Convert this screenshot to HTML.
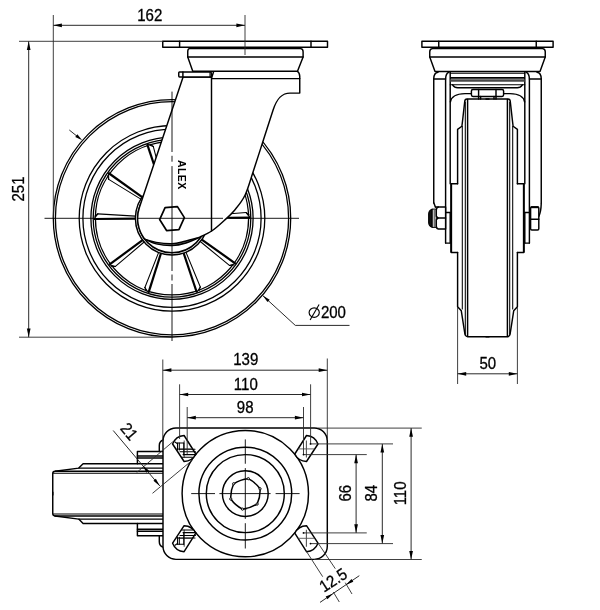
<!DOCTYPE html>
<html><head><meta charset="utf-8"><title>Caster drawing</title>
<style>
html,body{margin:0;padding:0;background:#fff;}
body{width:600px;height:610px;overflow:hidden;}
svg{display:block;}
.m{stroke:#000;stroke-width:1.45;fill:none;stroke-linecap:round;stroke-linejoin:round;}
.mf{stroke:#000;stroke-width:1.45;fill:#fff;stroke-linecap:round;stroke-linejoin:round;}
.k{stroke:#000;stroke-width:2.2;fill:none;stroke-linecap:butt;}
.t{stroke:#000;stroke-width:1.05;fill:none;stroke-linecap:round;}
.d{stroke:#2a2a2a;stroke-width:1.0;fill:none;}
.e{stroke:#2a2a2a;stroke-width:0.9;fill:none;}
.c{stroke:#000;stroke-width:0.9;fill:none;}
.ar{fill:#000;stroke:none;}
text{font-family:"Liberation Sans",sans-serif;font-size:15px;fill:#000;stroke:#000;stroke-width:0.3px;}
svg{will-change:transform;}
</style></head><body>
<svg width="600" height="610" viewBox="0 0 600 610">
<rect x="0" y="0" width="600" height="610" fill="#fff"/>

<g id="side">
<circle class="m" style="stroke-width:1.3" cx="172.00" cy="218.30" r="118.70"/>
<circle class="m" style="stroke-width:1.3" cx="172.00" cy="218.30" r="116.60"/>
<circle class="m" style="stroke-width:1.3" cx="172.00" cy="218.30" r="92.80"/>
<circle class="m" style="stroke-width:1.3" cx="172.00" cy="218.30" r="89.10"/>
<circle class="m" style="stroke-width:1.3" cx="172.00" cy="218.30" r="81.10"/>
<circle class="m" style="stroke-width:1.3" cx="172.00" cy="218.30" r="78.80"/>
<circle class="m" style="stroke-width:1.3" cx="172.00" cy="218.30" r="76.60"/>
<polygon points="208.60,217.98 250.00,217.62 246.08,212.60 208.49,215.49" fill="#fff" stroke="none"/>
<line class="k" x1="208.60" y1="217.98" x2="250.00" y2="217.62"/>
<line class="t" x1="208.49" y1="215.49" x2="246.08" y2="212.60"/>
<line class="t" x1="246.08" y1="212.60" x2="250.00" y2="217.62"/>
<line class="t" x1="246.08" y1="212.60" x2="249.13" y2="214.93"/>
<polygon points="201.80,239.55 235.50,263.59 229.41,265.46 200.28,241.53" fill="#fff" stroke="none"/>
<line class="k" x1="201.80" y1="239.55" x2="235.50" y2="263.59"/>
<line class="t" x1="200.28" y1="241.53" x2="229.41" y2="265.46"/>
<line class="t" x1="229.41" y1="265.46" x2="235.50" y2="263.59"/>
<line class="t" x1="229.41" y1="265.46" x2="233.25" y2="265.30"/>
<polygon points="183.61,253.01 196.75,292.27 200.31,286.99 185.95,252.14" fill="#fff" stroke="none"/>
<line class="k" x1="183.61" y1="253.01" x2="196.75" y2="292.27"/>
<line class="t" x1="185.95" y1="252.14" x2="200.31" y2="286.99"/>
<line class="t" x1="200.31" y1="286.99" x2="196.75" y2="292.27"/>
<line class="t" x1="200.31" y1="286.99" x2="199.04" y2="290.61"/>
<polygon points="160.99,253.21 148.54,292.69 144.89,287.48 158.65,252.38" fill="#fff" stroke="none"/>
<line class="k" x1="160.99" y1="253.21" x2="148.54" y2="292.69"/>
<line class="t" x1="158.65" y1="252.38" x2="144.89" y2="287.48"/>
<line class="t" x1="144.89" y1="287.48" x2="148.54" y2="292.69"/>
<line class="t" x1="144.89" y1="287.48" x2="146.23" y2="291.07"/>
<polygon points="142.58,240.07 109.30,264.70 115.42,266.46 144.13,242.02" fill="#fff" stroke="none"/>
<line class="k" x1="142.58" y1="240.07" x2="109.30" y2="264.70"/>
<line class="t" x1="144.13" y1="242.02" x2="115.42" y2="266.46"/>
<line class="t" x1="115.42" y1="266.46" x2="109.30" y2="264.70"/>
<line class="t" x1="115.42" y1="266.46" x2="111.58" y2="266.36"/>
<polygon points="135.40,218.62 94.00,218.98 97.83,213.89 135.46,216.13" fill="#fff" stroke="none"/>
<line class="k" x1="135.40" y1="218.62" x2="94.00" y2="218.98"/>
<line class="t" x1="135.46" y1="216.13" x2="97.83" y2="213.89"/>
<line class="t" x1="97.83" y1="213.89" x2="94.00" y2="218.98"/>
<line class="t" x1="97.83" y1="213.89" x2="94.83" y2="216.28"/>
<polygon points="142.20,197.05 108.50,173.01 108.72,179.37 140.83,199.12" fill="#fff" stroke="none"/>
<line class="k" x1="142.20" y1="197.05" x2="108.50" y2="173.01"/>
<line class="t" x1="140.83" y1="199.12" x2="108.72" y2="179.37"/>
<line class="t" x1="108.72" y1="179.37" x2="108.50" y2="173.01"/>
<line class="t" x1="108.72" y1="179.37" x2="107.62" y2="175.69"/>
<polygon points="160.39,183.59 147.25,144.33 153.27,146.40 162.77,182.88" fill="#fff" stroke="none"/>
<line class="k" x1="160.39" y1="183.59" x2="147.25" y2="144.33"/>
<line class="t" x1="162.77" y1="182.88" x2="153.27" y2="146.40"/>
<line class="t" x1="153.27" y1="146.40" x2="147.25" y2="144.33"/>
<line class="t" x1="153.27" y1="146.40" x2="150.07" y2="144.28"/>
<polygon points="183.01,183.39 195.46,143.91 189.47,146.08 180.61,182.73" fill="#fff" stroke="none"/>
<line class="k" x1="183.01" y1="183.39" x2="195.46" y2="143.91"/>
<line class="t" x1="180.61" y1="182.73" x2="189.47" y2="146.08"/>
<line class="t" x1="189.47" y1="146.08" x2="195.46" y2="143.91"/>
<line class="t" x1="189.47" y1="146.08" x2="192.63" y2="143.91"/>
<polygon points="201.42,196.53 234.70,171.90 234.59,178.27 202.83,198.58" fill="#fff" stroke="none"/>
<line class="k" x1="201.42" y1="196.53" x2="234.70" y2="171.90"/>
<line class="t" x1="202.83" y1="198.58" x2="234.59" y2="178.27"/>
<line class="t" x1="234.59" y1="178.27" x2="234.70" y2="171.90"/>
<line class="t" x1="234.59" y1="178.27" x2="235.62" y2="174.57"/>
<circle class="m" cx="172.00" cy="218.30" r="36.60"/>
<circle class="m" cx="172.00" cy="218.30" r="34.40"/>
<path class="mf" d="M 183.1,76.9 L 139.4,207.4 A 34.4 34.4 0 0 0 144.7,239.2 C 146.62,239.98 151.70,242.83 156.25,243.90 C 160.80,244.97 167.04,245.75 172.00,245.60 C 176.96,245.45 181.54,244.33 186.00,243.00 C 190.46,241.67 194.42,239.64 198.75,237.60 C 203.08,235.56 207.79,233.57 212.00,230.75 C 216.21,227.93 220.17,224.21 224.00,220.70 C 227.83,217.19 231.48,213.98 235.00,209.70 C 238.52,205.42 242.05,201.42 245.10,195.00 C 248.15,188.58 250.25,180.37 253.30,171.20 C 256.35,162.03 260.10,150.20 263.40,140.00 C 266.70,129.80 271.48,115.00 273.10,110.00 C 276.5,99.5 281,93.1 290,93.1 L 299.75,93.1 L 299.75,76.4 Q 299.6,72.6 297.5,71.3 L 213.75,71.3 L 211.9,76.9 Z"/>
<path class="m" d="M 144.70,239.20 C 146.62,239.73 151.70,241.65 156.25,242.40 C 160.80,243.15 167.21,243.88 172.00,243.70 C 176.79,243.52 180.54,242.32 185.00,241.30 C 189.46,240.28 196.46,238.22 198.75,237.60 "/>
<path d="M 144.70,239.20 C 146.62,239.73 151.70,241.65 156.25,242.40 C 160.80,243.15 167.21,243.88 172.00,243.70 C 176.79,243.52 180.54,242.32 185.00,241.30 C 189.46,240.28 196.46,238.22 198.75,237.60  C 196.62,238.50 190.46,241.67 186.00,243.00 C 181.54,244.33 176.96,245.45 172.00,245.60 C 167.04,245.75 160.80,244.97 156.25,243.90 C 151.70,242.83 146.62,239.98 144.70,239.20  Z" fill="#000" stroke="none" opacity="0.5"/>
<line class="m" x1="211.50" y1="76.90" x2="211.50" y2="231.00"/>
<line class="m" x1="211.90" y1="78.60" x2="299.75" y2="78.60"/>
<rect class="mf" x="178.75" y="71.9" width="32.5" height="5" rx="0.8"/>
<line class="m" x1="182.90" y1="71.90" x2="182.90" y2="76.90"/>
<line class="t" x1="210.00" y1="71.90" x2="210.00" y2="76.90"/>
<path class="mf" d="M 189.4,48.6 L 300.6,48.6 Q 303.1,48.8 303.1,51.8 L 303.1,56.9 L 297.5,71.3 L 192.75,71.3 L 187.75,56.9 L 187.75,51.8 Q 187.75,48.8 189.4,48.6 Z"/>
<line class="m" x1="187.75" y1="56.90" x2="303.10" y2="56.90"/>
<rect class="mf" x="162.75" y="41.25" width="164.75" height="6" />
<line class="m" x1="179.60" y1="41.25" x2="179.60" y2="47.25"/>
<line class="m" x1="311.00" y1="41.25" x2="311.00" y2="47.25"/>
<polygon class="mf" style="stroke-width:1.7" points="184.37,217.67 178.93,229.60 166.56,230.53 159.63,219.53 165.07,207.60 177.44,206.67"/>
<text transform="translate(178.3,160) rotate(90)" style="font-size:10.5px;font-weight:bold;letter-spacing:0.4px;stroke:none">ALEX</text>
<line class="c" x1="172.00" y1="91.60" x2="172.00" y2="152.00"/>
<line class="c" x1="172.00" y1="155.80" x2="172.00" y2="161.70"/>
<line class="c" x1="172.00" y1="166.10" x2="172.00" y2="271.00"/>
<line class="c" x1="172.00" y1="274.50" x2="172.00" y2="280.50"/>
<line class="c" x1="172.00" y1="284.00" x2="172.00" y2="341.00"/>
<line class="c" x1="44.50" y1="218.30" x2="96.00" y2="218.30"/>
<line class="c" x1="137.50" y1="218.30" x2="223.00" y2="218.30"/>
<line class="c" x1="229.50" y1="218.30" x2="299.00" y2="218.30"/>
</g>
<g id="sidedims">
<line class="e" x1="53.30" y1="15.00" x2="53.30" y2="218.00"/>
<line class="e" x1="245.00" y1="15.00" x2="245.00" y2="55.00"/>
<line class="d" x1="53.30" y1="25.30" x2="245.00" y2="25.30"/>
<polygon class="ar" points="53.30,25.30 61.90,23.45 61.90,27.15"/>
<polygon class="ar" points="245.00,25.30 236.40,27.15 236.40,23.45"/>
<text transform="translate(149.80,20.60) rotate(0.00) scale(0.905,1)" text-anchor="middle" style="font-size:16.60px;">162</text>
<line class="e" x1="19.00" y1="41.30" x2="163.00" y2="41.30"/>
<line class="e" x1="19.00" y1="337.20" x2="172.00" y2="337.20"/>
<line class="d" x1="28.70" y1="41.30" x2="28.70" y2="337.20"/>
<polygon class="ar" points="28.70,41.30 30.55,49.90 26.85,49.90"/>
<polygon class="ar" points="28.70,337.20 26.85,328.60 30.55,328.60"/>
<text transform="translate(24.20,189.00) rotate(-90.00) scale(0.905,1)" text-anchor="middle" style="font-size:16.60px;">251</text>
<line class="d" x1="69.30" y1="130.00" x2="78.00" y2="137.00"/>
<polygon class="ar" points="82.20,140.20 75.26,136.90 77.36,134.22"/>
<line class="d" x1="262.70" y1="295.50" x2="295.30" y2="325.40"/>
<line class="d" x1="295.30" y1="325.40" x2="349.50" y2="325.40"/>
<polygon class="ar" points="262.70,295.50 269.68,299.73 267.51,302.09"/>
<text transform="translate(320.90,318.00) rotate(0.00) scale(0.905,1)" text-anchor="start" style="font-size:16.60px;">200</text>
<ellipse cx="314.2" cy="312.6" rx="5.1" ry="4.7" fill="none" stroke="#000" stroke-width="1.15"/>
<line x1="310.1" y1="320" x2="319.1" y2="304.4" stroke="#000" stroke-width="1.1"/>
</g>
<g id="front">
<rect class="mf" x="421.9" y="41.25" width="131.2" height="6"/>
<line class="m" x1="438.75" y1="41.25" x2="438.75" y2="47.25"/><g transform="translate(975.00,0) scale(-1,1)"><line class="m" x1="438.75" y1="41.25" x2="438.75" y2="47.25"/></g>
<path class="mf" d="M 432.5,48.6 L 542.5,48.6 Q 545.25,48.8 545.25,51.8 L 545.25,56.9 L 540,71.5 L 435,71.5 L 429.75,56.9 L 429.75,51.8 Q 429.75,48.8 432.5,48.6 Z"/>
<line class="m" x1="429.75" y1="56.90" x2="545.25" y2="56.90"/>
<path class="m" d="M 433.75,203 L 433.75,78.75 Q 433.9,72.6 438,72.2"/><line class="m" x1="433.75" y1="79.00" x2="445.60" y2="79.00"/><path class="m" d="M 445.6,243.1 L 445.6,79 Q 445.8,73.2 448.75,72.2"/><line class="m" x1="450.20" y1="72.20" x2="450.20" y2="183.75"/><line class="m" x1="445.60" y1="243.10" x2="450.20" y2="243.10"/><line class="m" x1="450.20" y1="212.50" x2="450.20" y2="243.10"/><line class="m" x1="445.60" y1="212.50" x2="450.20" y2="212.50"/><path class="m" d="M 457.6,183.75 L 451.25,183.75 L 451.25,252.5 L 457.6,252.5"/><line x1="451.2" y1="183.75" x2="451.2" y2="252.5" stroke="#000" stroke-width="1.9"/><path class="m" d="M 450.4,101.9 Q 451.5,94 465,93.6 L 471.6,93.6"/><path class="m" d="M 489,99 L 467,99 Q 464.9,99 464.75,101.25 L 462.5,121.25 L 461.9,126.25 L 457.6,129.4 L 457.6,183.75"/><path class="m" d="M 457.6,252.5 L 457.6,306.7 L 461.3,310.8 L 464.8,333.5 Q 465.2,336.7 468,336.7 L 489,336.7"/><line class="t" x1="462.30" y1="126.30" x2="462.30" y2="309.00"/><line class="t" x1="465.30" y1="102.00" x2="465.30" y2="334.00"/><line class="m" x1="467.60" y1="99.50" x2="467.60" y2="336.50"/><g transform="translate(975.00,0) scale(-1,1)"><path class="m" d="M 433.75,203 L 433.75,78.75 Q 433.9,72.6 438,72.2"/><line class="m" x1="433.75" y1="79.00" x2="445.60" y2="79.00"/><path class="m" d="M 445.6,243.1 L 445.6,79 Q 445.8,73.2 448.75,72.2"/><line class="m" x1="450.20" y1="72.20" x2="450.20" y2="183.75"/><line class="m" x1="445.60" y1="243.10" x2="450.20" y2="243.10"/><line class="m" x1="450.20" y1="212.50" x2="450.20" y2="243.10"/><line class="m" x1="445.60" y1="212.50" x2="450.20" y2="212.50"/><path class="m" d="M 457.6,183.75 L 451.25,183.75 L 451.25,252.5 L 457.6,252.5"/><line x1="451.2" y1="183.75" x2="451.2" y2="252.5" stroke="#000" stroke-width="1.9"/><path class="m" d="M 450.4,101.9 Q 451.5,94 465,93.6 L 471.6,93.6"/><path class="m" d="M 489,99 L 467,99 Q 464.9,99 464.75,101.25 L 462.5,121.25 L 461.9,126.25 L 457.6,129.4 L 457.6,183.75"/><path class="m" d="M 457.6,252.5 L 457.6,306.7 L 461.3,310.8 L 464.8,333.5 Q 465.2,336.7 468,336.7 L 489,336.7"/><line class="t" x1="462.30" y1="126.30" x2="462.30" y2="309.00"/><line class="t" x1="465.30" y1="102.00" x2="465.30" y2="334.00"/><line class="m" x1="467.60" y1="99.50" x2="467.60" y2="336.50"/></g>
<line class="t" x1="450.20" y1="73.20" x2="524.80" y2="73.20"/>
<line x1="450.2" y1="77.9" x2="524.8" y2="77.9" stroke="#000" stroke-width="1.9"/>
<line x1="450.2" y1="80.5" x2="524.8" y2="80.5" stroke="#484848" stroke-width="2.3"/>
<line class="t" x1="450.20" y1="84.80" x2="524.80" y2="84.80"/>
<path class="m" d="M 452.6,84.8 Q 454.5,87.7 457.7,87.7 L 517.3,87.7 Q 520.5,87.7 522.4,84.8"/>
<rect class="mf" x="471.4" y="89.4" width="32.2" height="7" rx="1.6"/>
<line class="m" x1="478.60" y1="89.40" x2="478.60" y2="96.40"/>
<line class="m" x1="496.00" y1="89.40" x2="496.00" y2="96.40"/>
<line class="m" x1="478.60" y1="96.40" x2="478.60" y2="99.00"/>
<line class="m" x1="480.60" y1="96.40" x2="480.60" y2="99.00"/>
<line class="m" x1="496.00" y1="96.40" x2="496.00" y2="99.00"/>
<line class="m" x1="494.00" y1="96.40" x2="494.00" y2="99.00"/>
<path d="M 432.2,209.3 Q 428.7,210.6 428.7,214 L 428.7,222.4 Q 428.7,225.9 432.2,227.2 Z" fill="#111" stroke="#000" stroke-width="1.2" stroke-linejoin="round"/>
<rect x="432.2" y="209.1" width="4.1" height="18.3" fill="#d8d8d8" stroke="#000" stroke-width="1"/>
<line x1="434.3" y1="209.5" x2="434.3" y2="227" stroke="#555" stroke-width="1"/>
<path class="mf" d="M 445.6,207 L 438.3,207 Q 436.4,207.6 436.3,210 L 436.3,216.2 L 438,218 L 436.3,219.8 L 436.3,226.4 Q 436.4,228.6 438.3,229 L 445.6,229 Z"/>
<line class="m" x1="438.00" y1="218.00" x2="445.60" y2="218.00"/>
<line class="m" x1="433.90" y1="203.00" x2="435.40" y2="207.00"/>
<line class="m" x1="435.40" y1="207.00" x2="438.30" y2="207.00"/>
<path class="m" d="M 541.25,203.5 Q 541,212 538.75,216.5"/>
<rect class="mf" x="530.6" y="206.9" width="8.2" height="23" rx="1.2"/>
<line class="m" x1="530.60" y1="219.20" x2="538.80" y2="219.20"/>
<line x1="530.8" y1="207.2" x2="538.6" y2="207.2" stroke="#000" stroke-width="2"/>
</g>
<g id="frontdims">
<line class="e" x1="457.60" y1="307.00" x2="457.60" y2="384.00"/>
<line class="e" x1="517.40" y1="307.00" x2="517.40" y2="384.00"/>
<line class="d" x1="457.60" y1="373.80" x2="517.40" y2="373.80"/>
<polygon class="ar" points="457.60,373.80 466.20,371.95 466.20,375.65"/>
<polygon class="ar" points="517.40,373.80 508.80,375.65 508.80,371.95"/>
<text transform="translate(487.80,368.60) rotate(0.00) scale(0.905,1)" text-anchor="middle" style="font-size:16.60px;">50</text>
</g>
<g id="top">
<path class="m" d="M 163,463.75 L 83.1,463.75 L 78.75,468.1 L 55,471.25 Q 52.75,471.4 52.75,473.6 L 52.75,495.10"/><line class="t" x1="78.75" y1="468.10" x2="163.00" y2="468.10"/><line class="m" x1="55.00" y1="471.25" x2="163.00" y2="471.25"/><line class="t" x1="53.50" y1="473.20" x2="163.00" y2="473.20"/><path class="m" d="M 163,451.5 L 137.4,451.5 L 137.4,463.75"/><line class="m" x1="137.40" y1="455.90" x2="163.00" y2="455.90"/><line class="m" x1="137.40" y1="457.90" x2="163.00" y2="457.90"/><path class="m" d="M 163,440 Q 159.3,441.5 159.3,445.5 L 159.3,451.5"/><g transform="translate(0,987.20) scale(1,-1)"><path class="m" d="M 163,463.75 L 83.1,463.75 L 78.75,468.1 L 55,471.25 Q 52.75,471.4 52.75,473.6 L 52.75,495.10"/><line class="t" x1="78.75" y1="468.10" x2="163.00" y2="468.10"/><line class="m" x1="55.00" y1="471.25" x2="163.00" y2="471.25"/><line class="t" x1="53.50" y1="473.20" x2="163.00" y2="473.20"/><path class="m" d="M 163,451.5 L 137.4,451.5 L 137.4,463.75"/><line class="m" x1="137.40" y1="455.90" x2="163.00" y2="455.90"/><line class="m" x1="137.40" y1="457.90" x2="163.00" y2="457.90"/><path class="m" d="M 163,440 Q 159.3,441.5 159.3,445.5 L 159.3,451.5"/></g>
<rect class="mf" x="163" y="428.05" width="164.3" height="131.3" rx="13" ry="13"/>
<circle class="mf" cx="245.30" cy="493.60" r="63.20"/>
<circle class="mf" cx="245.30" cy="493.60" r="46.40"/>
<circle class="mf" cx="245.30" cy="493.60" r="39.00"/>
<circle class="mf" cx="245.30" cy="493.60" r="22.90"/>
<path class="m" style="stroke-width:1.5" d="M 248.30,478.67 A 32 32 0 0 1 260.04,488.80 A 32 32 0 0 1 257.13,504.03 A 32 32 0 0 1 242.50,509.13 A 32 32 0 0 1 230.76,499.00 A 32 32 0 0 1 233.67,483.77 A 32 32 0 0 1 248.30,478.67  Z"/>
<circle cx="248.30" cy="478.67" r="1.15" fill="#ddd" stroke="#000" stroke-width="0.9"/>
<circle cx="260.04" cy="488.80" r="1.15" fill="#ddd" stroke="#000" stroke-width="0.9"/>
<circle cx="257.13" cy="504.03" r="1.15" fill="#ddd" stroke="#000" stroke-width="0.9"/>
<circle cx="242.50" cy="509.13" r="1.15" fill="#ddd" stroke="#000" stroke-width="0.9"/>
<circle cx="230.76" cy="499.00" r="1.15" fill="#ddd" stroke="#000" stroke-width="0.9"/>
<circle cx="233.67" cy="483.77" r="1.15" fill="#ddd" stroke="#000" stroke-width="0.9"/>
<path class="mf" d="M 306.50,435.50 A 13.5 13.5 0 0 1 318.00,444.00 L 306.50,461.50 A 13.5 13.5 0 0 1 294.80,454.00 Z"/><line x1="306.40" y1="440.40" x2="306.40" y2="457.40" stroke="#555" stroke-width="1.1"/><line x1="298.40" y1="448.90" x2="314.40" y2="448.90" stroke="#555" stroke-width="0.9"/>
<path class="mf" d="M 306.50,551.70 A 13.5 13.5 0 0 0 318.00,543.20 L 306.50,525.70 A 13.5 13.5 0 0 0 294.80,533.20 Z"/><line x1="306.40" y1="529.80" x2="306.40" y2="546.80" stroke="#555" stroke-width="1.1"/><line x1="298.40" y1="538.30" x2="314.40" y2="538.30" stroke="#555" stroke-width="0.9"/>
<path class="mf" d="M 184.10,435.50 A 13.5 13.5 0 0 0 172.60,444.00 L 184.10,461.50 A 13.5 13.5 0 0 0 195.80,454.00 Z"/><line x1="184.20" y1="440.40" x2="184.20" y2="457.40" stroke="#555" stroke-width="1.1"/><line x1="176.20" y1="448.90" x2="192.20" y2="448.90" stroke="#555" stroke-width="0.9"/>
<path class="mf" d="M 184.10,551.70 A 13.5 13.5 0 0 1 172.60,543.20 L 184.10,525.70 A 13.5 13.5 0 0 1 195.80,533.20 Z"/><line x1="184.20" y1="529.80" x2="184.20" y2="546.80" stroke="#555" stroke-width="1.1"/><line x1="176.20" y1="538.30" x2="192.20" y2="538.30" stroke="#555" stroke-width="0.9"/>
<line class="t" x1="177.50" y1="443.00" x2="177.50" y2="450.00"/><line class="t" x1="179.30" y1="443.00" x2="179.30" y2="450.00"/><line class="t" x1="177.50" y1="443.00" x2="183.75" y2="443.00"/><line class="t" x1="183.75" y1="443.00" x2="183.75" y2="455.00"/><line class="t" x1="179.00" y1="449.20" x2="195.00" y2="449.20"/><line class="t" x1="180.00" y1="451.80" x2="195.50" y2="451.80"/><line class="t" x1="183.00" y1="454.60" x2="196.00" y2="454.60"/><line class="t" x1="182.00" y1="457.20" x2="192.50" y2="457.20"/><line class="t" x1="175.00" y1="442.00" x2="177.50" y2="443.70"/>
<line class="t" x1="177.50" y1="544.20" x2="177.50" y2="537.20"/><line class="t" x1="179.30" y1="544.20" x2="179.30" y2="537.20"/><line class="t" x1="177.50" y1="544.20" x2="183.75" y2="544.20"/><line class="t" x1="183.75" y1="544.20" x2="183.75" y2="532.20"/><line class="t" x1="179.00" y1="538.00" x2="195.00" y2="538.00"/><line class="t" x1="180.00" y1="535.40" x2="195.50" y2="535.40"/><line class="t" x1="183.00" y1="532.60" x2="196.00" y2="532.60"/><line class="t" x1="182.00" y1="530.00" x2="192.50" y2="530.00"/><line class="t" x1="175.00" y1="545.20" x2="177.50" y2="543.50"/>
<line class="c" x1="191.20" y1="493.60" x2="215.00" y2="493.60"/>
<line class="c" x1="219.40" y1="493.60" x2="270.60" y2="493.60"/>
<line class="c" x1="275.60" y1="493.60" x2="299.60" y2="493.60"/>
<line class="c" x1="245.30" y1="439.40" x2="245.30" y2="463.75"/>
<line class="c" x1="245.30" y1="468.10" x2="245.30" y2="518.90"/>
<line class="c" x1="245.30" y1="523.20" x2="245.30" y2="548.50"/>
</g>
<g id="topdims">
<line class="e" x1="162.80" y1="359.50" x2="162.80" y2="441.00"/>
<line class="e" x1="327.30" y1="358.50" x2="327.30" y2="440.00"/>
<line class="d" x1="162.80" y1="370.20" x2="327.30" y2="370.20"/>
<polygon class="ar" points="162.80,370.20 171.40,368.35 171.40,372.05"/>
<polygon class="ar" points="327.30,370.20 318.70,372.05 318.70,368.35"/>
<text transform="translate(245.80,365.30) rotate(0.00) scale(0.905,1)" text-anchor="middle" style="font-size:16.60px;">139</text>
<line class="e" x1="179.60" y1="384.30" x2="179.60" y2="439.00"/>
<line class="e" x1="310.60" y1="384.30" x2="310.60" y2="444.00"/>
<line class="d" x1="179.60" y1="394.50" x2="310.60" y2="394.50"/>
<polygon class="ar" points="179.60,394.50 188.20,392.65 188.20,396.35"/>
<polygon class="ar" points="310.60,394.50 302.00,396.35 302.00,392.65"/>
<text transform="translate(245.80,390.00) rotate(0.00) scale(0.905,1)" text-anchor="middle" style="font-size:16.60px;">110</text>
<line class="e" x1="187.20" y1="407.00" x2="187.20" y2="454.00"/>
<line class="e" x1="303.50" y1="407.00" x2="303.50" y2="454.80"/>
<line class="d" x1="187.20" y1="417.70" x2="303.50" y2="417.70"/>
<polygon class="ar" points="187.20,417.70 195.80,415.85 195.80,419.55"/>
<polygon class="ar" points="303.50,417.70 294.90,419.55 294.90,415.85"/>
<text transform="translate(245.20,412.80) rotate(0.00) scale(0.905,1)" text-anchor="middle" style="font-size:16.60px;">98</text>
<line class="e" x1="318.00" y1="428.10" x2="421.75" y2="428.10"/>
<line class="e" x1="314.00" y1="559.50" x2="421.75" y2="559.50"/>
<line class="d" x1="411.10" y1="428.10" x2="411.10" y2="559.50"/>
<polygon class="ar" points="411.10,428.10 412.95,436.70 409.25,436.70"/>
<polygon class="ar" points="411.10,559.50 409.25,550.90 412.95,550.90"/>
<text transform="translate(405.80,493.40) rotate(-90.00) scale(0.905,1)" text-anchor="middle" style="font-size:16.60px;">110</text>
<line class="e" x1="310.50" y1="443.90" x2="393.00" y2="443.90"/>
<line class="e" x1="310.50" y1="543.60" x2="393.00" y2="543.60"/>
<line class="d" x1="382.30" y1="443.90" x2="382.30" y2="543.60"/>
<polygon class="ar" points="382.30,443.90 384.15,452.50 380.45,452.50"/>
<polygon class="ar" points="382.30,543.60 380.45,535.00 384.15,535.00"/>
<text transform="translate(376.80,493.20) rotate(-90.00) scale(0.905,1)" text-anchor="middle" style="font-size:16.60px;">84</text>
<line class="e" x1="303.50" y1="454.60" x2="366.75" y2="454.60"/>
<line class="e" x1="303.50" y1="532.90" x2="366.75" y2="532.90"/>
<line class="d" x1="356.10" y1="454.60" x2="356.10" y2="532.90"/>
<polygon class="ar" points="356.10,454.60 357.95,463.20 354.25,463.20"/>
<polygon class="ar" points="356.10,532.90 354.25,524.30 357.95,524.30"/>
<text transform="translate(351.20,493.20) rotate(-90.00) scale(0.905,1)" text-anchor="middle" style="font-size:16.60px;">66</text>
<circle cx="310.50" cy="443.90" r="0.9" fill="#000"/>
<circle cx="303.50" cy="454.60" r="0.9" fill="#000"/>
<circle cx="310.50" cy="543.60" r="0.9" fill="#000"/>
<circle cx="303.50" cy="532.90" r="0.9" fill="#000"/>
<line class="e" x1="136.70" y1="472.50" x2="172.90" y2="441.70"/>
<line class="e" x1="152.50" y1="493.30" x2="192.50" y2="460.00"/>
<line class="d" x1="113.20" y1="430.50" x2="159.80" y2="485.90"/>
<polygon class="ar" points="142.60,465.50 148.97,470.59 146.53,472.65"/>
<polygon class="ar" points="159.80,485.90 153.43,480.81 155.87,478.75"/>
<text transform="translate(124.80,435.20) rotate(50.00) scale(0.905,1)" text-anchor="middle" style="font-size:16.60px;">21</text>
<line class="e" x1="306.50" y1="551.50" x2="322.70" y2="576.70"/>
<line class="e" x1="333.30" y1="592.00" x2="339.30" y2="602.00"/>
<line class="e" x1="318.00" y1="543.00" x2="335.30" y2="568.70"/>
<line class="e" x1="345.30" y1="582.70" x2="352.00" y2="594.00"/>
<line class="d" x1="320.00" y1="602.40" x2="359.30" y2="575.70"/>
<polygon class="ar" points="333.20,593.40 327.48,599.22 325.68,596.57"/>
<polygon class="ar" points="345.80,584.90 351.52,579.08 353.32,581.73"/>
<text transform="translate(336.20,584.90) rotate(-33.00) scale(0.905,1)" text-anchor="middle" style="font-size:16.60px;">12.5</text>
</g>
</svg></body></html>
